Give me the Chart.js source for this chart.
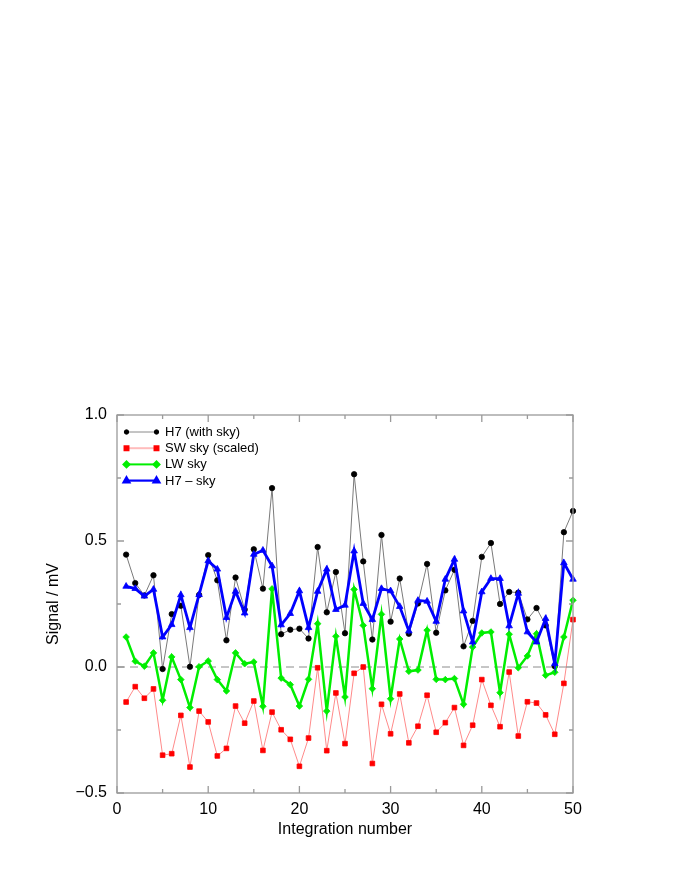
<!DOCTYPE html>
<html>
<head>
<meta charset="utf-8">
<title>Signal per integration</title>
<script src="https://cdn.jsdelivr.net/npm/chart.js"></script>
<style>
  body { margin: 0; background: #fff; }
  canvas { display: block; }
</style>
</head>
<body>
<canvas id="grafico" width="692" height="896"></canvas>
<script>
// numero de integracion
const integracion = [1, 2, 3, 4, 5, 6, 7, 8, 9, 10, 11, 12, 13, 14, 15, 16, 17, 18, 19, 20,
  21, 22, 23, 24, 25, 26, 27, 28, 29, 30, 31, 32, 33, 34, 35, 36, 37, 38, 39, 40,
  41, 42, 43, 44, 45, 46, 47, 48, 49, 50];

const h7ConCielo = [0.446, 0.333, 0.284, 0.364, -0.008, 0.210, 0.243, 0.001, 0.286, 0.444,
  0.344, 0.106, 0.355, 0.228, 0.467, 0.311, 0.710, 0.130, 0.148, 0.152,
  0.113, 0.476, 0.217, 0.377, 0.134, 0.765, 0.419, 0.109, 0.524, 0.180,
  0.351, 0.132, 0.252, 0.409, 0.136, 0.304, 0.386, 0.082, 0.183, 0.437,
  0.492, 0.250, 0.298, 0.295, 0.189, 0.234, 0.165, 0.003, 0.535, 0.619];

const swCielo = [-0.139, -0.078, -0.124, -0.087, -0.350, -0.344, -0.192, -0.397, -0.175, -0.218,
  -0.353, -0.323, -0.155, -0.223, -0.135, -0.331, -0.179, -0.249, -0.287, -0.394,
  -0.282, -0.003, -0.332, -0.103, -0.304, -0.025, 0.000, -0.383, -0.148, -0.265,
  -0.107, -0.301, -0.235, -0.112, -0.259, -0.221, -0.161, -0.311, -0.231, -0.050,
  -0.152, -0.237, -0.020, -0.274, -0.138, -0.143, -0.190, -0.267, -0.065, 0.188];

const lwCielo = [0.119, 0.023, 0.003, 0.056, -0.132, 0.040, -0.050, -0.161, 0.001, 0.024,
  -0.050, -0.095, 0.056, 0.013, 0.020, -0.156, 0.310, -0.044, -0.070, -0.155,
  -0.049, 0.172, -0.175, 0.122, -0.119, 0.308, 0.165, -0.086, 0.209, -0.126,
  0.111, -0.017, -0.012, 0.146, -0.049, -0.050, -0.046, -0.148, 0.079, 0.135,
  0.139, -0.102, 0.130, -0.003, 0.044, 0.132, -0.033, -0.021, 0.119, 0.265];

const h7MenosCielo = [0.320, 0.311, 0.281, 0.308, 0.119, 0.168, 0.286, 0.156, 0.287, 0.421,
  0.388, 0.196, 0.300, 0.214, 0.447, 0.463, 0.401, 0.167, 0.212, 0.302,
  0.156, 0.300, 0.388, 0.228, 0.245, 0.460, 0.252, 0.188, 0.311, 0.302,
  0.240, 0.143, 0.264, 0.261, 0.181, 0.348, 0.427, 0.222, 0.099, 0.298,
  0.351, 0.351, 0.163, 0.292, 0.139, 0.099, 0.192, 0.013, 0.413, 0.348];

const lineaCero = [0, 0];
const extremosX = [0, 50];

const ticksX = [0, 10, 20, 30, 40, 50];
const ticksXMenores = [5, 15, 25, 35, 45];
const ticksY = [-0.5, 0, 0.5, 1.0];
const ticksYMenores = [-0.25, 0.25, 0.75];

const fuente = '"Liberation Sans", Arial, Helvetica, sans-serif';

function puntos(valores) {
  return valores.map((v, i) => ({ x: integracion[i], y: v }));
}

// marco gris con ticks hacia adentro en los cuatro lados
const marcoPlugin = {
  id: 'marco',
  afterDatasetsDraw(chart) {
    const ctx = chart.ctx;
    const a = chart.chartArea;
    const sx = chart.scales.x, sy = chart.scales.y;
    ctx.save();
    ctx.strokeStyle = '#9a9a9a';
    ctx.lineWidth = 1.3;
    ctx.strokeRect(a.left, a.top, a.right - a.left, a.bottom - a.top);
    ctx.beginPath();
    ticksX.concat(ticksXMenores).forEach(v => {
      const px = sx.getPixelForValue(v);
      const l = ticksX.includes(v) ? 7 : 4;
      ctx.moveTo(px, a.bottom); ctx.lineTo(px, a.bottom - l);
      ctx.moveTo(px, a.top); ctx.lineTo(px, a.top + l);
    });
    ticksY.concat(ticksYMenores).forEach(v => {
      const py = sy.getPixelForValue(v);
      const l = ticksY.includes(v) ? 7 : 4;
      ctx.moveTo(a.left, py); ctx.lineTo(a.left + l, py);
      ctx.moveTo(a.right, py); ctx.lineTo(a.right - l, py);
    });
    ctx.stroke();
    ctx.restore();
  }
};

// leyenda dentro del area del grafico
const leyendaPlugin = {
  id: 'leyenda',
  afterDraw(chart) {
    const ctx = chart.ctx;
    const a = chart.chartArea;
    const series = chart.data.datasets.filter(ds => ds.leyenda);
    series.forEach((ds, i) => {
      const ley = ds.leyenda;
      const y = a.top + 17 + i * 16.2;
      const x0 = a.left + 9.5, x1 = a.left + 39.5;
      ctx.save();
      ctx.strokeStyle = ley.linea;
      ctx.lineWidth = ley.ancho;
      ctx.beginPath(); ctx.moveTo(x0, y); ctx.lineTo(x1, y); ctx.stroke();
      ctx.fillStyle = ds.pointBackgroundColor;
      ctx.strokeStyle = ds.pointBorderColor;
      const opts = { pointStyle: ds.pointStyle, radius: ley.radio, borderWidth: 0.8, rotation: 0 };
      Chart.helpers.drawPoint(ctx, opts, x0, y);
      Chart.helpers.drawPoint(ctx, opts, x1, y);
      ctx.fillStyle = '#000';
      ctx.font = '13px ' + fuente;
      ctx.textBaseline = 'middle';
      ctx.fillText(ds.label, a.left + 48, y + 0.5);
      ctx.restore();
    });
  }
};

const ctx = document.getElementById('grafico').getContext('2d');
new Chart(ctx, {
  type: 'line',
  data: {
    datasets: [
      {
        label: 'H7 (with sky)', order: 4,
        leyenda: { linea: '#8a8a8a', ancho: 1, radio: 2.2 },
        data: puntos(h7ConCielo),
        borderColor: '#7a7a7a', borderWidth: 1,
        pointStyle: 'circle', pointRadius: 2.7,
        pointBackgroundColor: '#000', pointBorderColor: '#000', pointBorderWidth: 0.8
      },
      {
        label: 'SW sky (scaled)', order: 3,
        leyenda: { linea: '#ffbcbc', ancho: 2, radio: 2.8 },
        data: puntos(swCielo),
        borderColor: '#ff8a8a', borderWidth: 1,
        pointStyle: 'rect', pointRadius: 3.3,
        pointBackgroundColor: '#ff0000', pointBorderColor: '#ff0000', pointBorderWidth: 0.8
      },
      {
        label: 'LW sky', order: 2,
        leyenda: { linea: '#00ee00', ancho: 2, radio: 3 },
        data: puntos(lwCielo),
        borderColor: '#00ee00', borderWidth: 2.5,
        pointStyle: 'rectRot', pointRadius: 3.3,
        pointBackgroundColor: '#00ee00', pointBorderColor: '#00ee00', pointBorderWidth: 0.8
      },
      {
        label: 'H7 \u2013 sky', order: 1,
        leyenda: { linea: '#0000ff', ancho: 2.2, radio: 3.4 },
        data: puntos(h7MenosCielo),
        borderColor: '#0000ff', borderWidth: 2.8,
        pointStyle: 'triangle', pointRadius: 3.8,
        pointBackgroundColor: '#0000ff', pointBorderColor: '#0000ff', pointBorderWidth: 0.8
      },
      {
        label: 'cero', order: 5,
        data: extremosX.map((x, i) => ({ x: x, y: lineaCero[i] })),
        borderColor: '#8c8c8c', borderWidth: 1, borderDash: [8, 5],
        pointRadius: 0
      }
    ].map(ds => Object.assign({ tension: 0, fill: false, clip: false }, ds))
  },
  options: {
    responsive: false,
    animation: false,
    layout: { padding: { left: 40, right: 119, top: 415, bottom: 57 } },
    plugins: {
      legend: { display: false },
      tooltip: { enabled: false }
    },
    scales: {
      x: {
        type: 'linear', min: 0, max: 50,
        afterFit: s => { s.height = 46; },
        afterBuildTicks: s => { s.ticks = ticksX.map(v => ({ value: v })); },
        grid: { display: false, drawTicks: false },
        border: { display: false },
        ticks: { color: '#000', padding: 7, font: { family: fuente, size: 16 } },
        title: {
          display: true, text: 'Integration number', color: '#000',
          font: { family: fuente, size: 16 }, padding: { top: 2, bottom: 0 }
        }
      },
      y: {
        type: 'linear', min: -0.5, max: 1.0,
        afterFit: s => { s.width = 77; },
        afterBuildTicks: s => { s.ticks = ticksY.map(v => ({ value: v })); },
        grid: { display: false, drawTicks: false },
        border: { display: false },
        ticks: {
          color: '#000', padding: 10, font: { family: fuente, size: 16 },
          callback: v => (v < 0 ? '\u2212' : '') + Math.abs(v).toFixed(1)
        },
        title: {
          display: true, text: 'Signal / mV', color: '#000',
          font: { family: fuente, size: 16 }, padding: { top: 4, bottom: 0 }
        }
      }
    }
  },
  plugins: [marcoPlugin, leyendaPlugin]
});
</script>
</body>
</html>
